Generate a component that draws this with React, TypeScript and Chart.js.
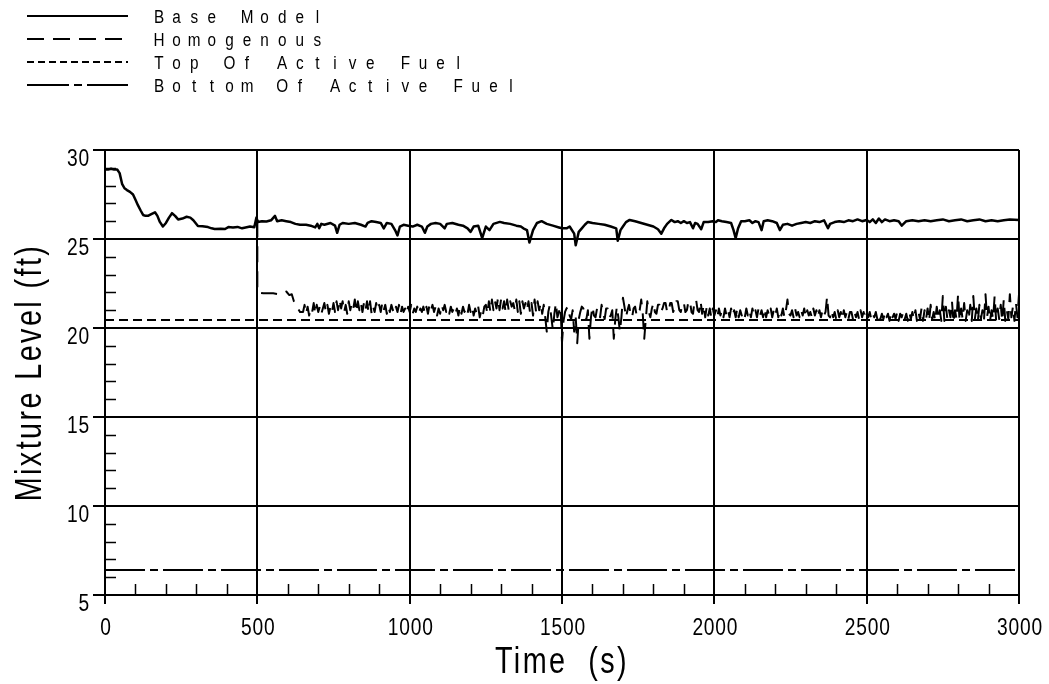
import React, { useEffect, useRef } from "react";
import { Chart, registerables } from "chart.js";

Chart.register(...registerables);

// ---------- data ----------
const baseTime = [
  0, 10, 20, 30, 40, 48, 56, 64, 72, 82, 92, 100, 108, 117, 125, 133, 141, 152, 164, 172,
  180, 190, 200, 210, 220, 230, 240, 254, 268, 280, 290, 305, 320, 338, 350, 360, 380, 394, 405, 420,
  435, 450, 465, 476, 490, 497, 502, 515, 530, 545, 558, 565, 580, 595, 610, 625, 640, 660, 675, 690,
  697, 703, 710, 720, 740, 755, 762, 770, 780, 800, 820, 840, 855, 862, 875, 890, 905, 915, 925, 940,
  952, 960, 968, 980, 995, 1010, 1025, 1040, 1050, 1058, 1070, 1085, 1100, 1115, 1122, 1140, 1160, 1175, 1190, 1200,
  1210, 1225, 1238, 1250, 1262, 1275, 1296, 1310, 1330, 1350, 1365, 1373, 1385, 1393, 1405, 1418, 1433, 1450, 1470, 1490,
  1500, 1515, 1525, 1540, 1545, 1555, 1565, 1575, 1585, 1600, 1620, 1640, 1660, 1678, 1683, 1692, 1700, 1710, 1722, 1740,
  1760, 1780, 1800, 1815, 1826, 1835, 1845, 1859, 1870, 1880, 1890, 1900, 1910, 1920, 1930, 1937, 1945, 1957, 1965, 1980,
  1995, 2005, 2012, 2025, 2040, 2055, 2063, 2070, 2078, 2088, 2100, 2115, 2125, 2135, 2145, 2155, 2162, 2175, 2190, 2205,
  2215, 2225, 2240, 2255, 2270, 2285, 2300, 2315, 2330, 2345, 2360, 2373, 2380, 2395, 2410, 2425, 2440, 2455, 2470, 2485,
  2500, 2510, 2520, 2530, 2540, 2550, 2560, 2575, 2590, 2605, 2615, 2630, 2650, 2670, 2690, 2710, 2730, 2750, 2770, 2790,
  2810, 2830, 2850, 2870, 2890, 2910, 2930, 2950, 2970, 3000,
];
const baseLevel = [
  28.9, 28.9, 28.95, 28.9, 28.9, 28.7, 28.1, 27.85, 27.75, 27.65, 27.5, 27.2, 26.9, 26.6, 26.35, 26.3, 26.3, 26.4, 26.5, 26.3,
  25.96, 25.7, 25.9, 26.2, 26.45, 26.3, 26.1, 26.15, 26.25, 26.2, 26.05, 25.73, 25.72, 25.67, 25.6, 25.56, 25.58, 25.56, 25.67, 25.65,
  25.68, 25.6, 25.66, 25.7, 25.66, 26.2, 25.95, 26.0, 25.98, 26.05, 26.3, 26.0, 26.05, 26.0, 25.95, 25.85, 25.8, 25.8, 25.75, 25.65,
  25.85, 25.6, 25.85, 25.8, 25.9, 25.75, 25.35, 25.8, 25.9, 25.85, 25.9, 25.8, 25.7, 25.9, 26.0, 25.95, 25.9, 25.6, 25.9, 25.85,
  25.5, 25.2, 25.7, 25.8, 25.75, 25.7, 25.8, 25.7, 25.35, 25.7, 25.85, 25.9, 25.85, 25.6, 25.85, 25.9, 25.8, 25.75, 25.6, 25.4,
  25.7, 25.75, 25.05, 25.7, 25.5, 25.85, 25.96, 25.9, 25.85, 25.75, 25.7, 25.6, 25.5, 24.8, 25.5, 25.9, 26.0, 25.85, 25.75, 25.65,
  25.6, 25.6, 25.7, 25.3, 24.65, 25.4, 25.6, 25.8, 25.96, 25.9, 25.85, 25.8, 25.7, 25.6, 24.9, 25.5, 25.7, 25.95, 26.07, 26.0,
  25.9, 25.8, 25.7, 25.55, 25.3, 25.6, 25.85, 26.07, 25.95, 26.0, 25.9, 26.0, 25.9, 25.95, 25.6, 25.9, 25.85, 25.55, 25.95, 25.95,
  26.0, 25.95, 26.05, 26.0, 25.95, 25.9, 25.5, 25.05, 25.6, 26.0, 26.0, 26.05, 25.9, 26.0, 25.95, 25.5, 26.0, 26.05, 26.0, 25.9,
  25.5, 25.8, 25.85, 25.75, 25.85, 25.9, 25.95, 25.9, 26.0, 25.95, 26.05, 25.6, 25.85, 25.95, 26.0, 25.95, 26.05, 26.0, 26.1, 26.0,
  26.07, 25.95, 26.1, 25.9, 26.15, 25.95, 26.1, 26.0, 26.05, 26.0, 25.75, 26.0, 26.05, 26.0, 26.05, 26.0, 26.05, 26.1, 26.0, 26.05,
  26.1, 26.0, 26.05, 26.1, 26.0, 26.05, 26.0, 26.05, 26.1, 26.07,
];

// Homogenous: transition section (irregular times) ...
const homogStartTime = [500, 500, 500, 520, 552, 570, 585, 595, 605, 613, 620, 630, 640];
const homogStartLevel = [26.0, 24.5, 22.0, 21.95, 21.95, 21.9, 21.95, 22.05, 21.85, 21.9, 21.5, 21.2, 20.9];
// ... then read every 5 s from 650 s to 3000 s
const homogSampleStart = 650;
const homogSampleStep = 5;
const homogSampleLevel = [
  20.9, 21.3, 20.8, 21.2, 20.7, 21.1, 20.9, 21.4, 20.8, 21.3, 20.9, 21.2, 20.8, 21.1, 21.4, 20.9, 21.3, 20.8, 21.2, 20.9,
  21.4, 20.9, 21.5, 21.0, 21.6, 21.1, 21.5, 20.9, 21.3, 20.8, 21.5, 21.0, 21.4, 21.1, 21.6, 20.9, 21.5, 21.0, 21.4, 20.9,
  21.4, 21.0, 21.5, 20.9, 21.5, 20.8, 21.2, 20.9, 21.4, 21.0, 21.3, 20.9, 21.4, 21.0, 21.3, 20.8, 21.2, 20.9, 21.3, 21.0,
  20.8, 21.2, 20.9, 21.3, 20.8, 21.2, 20.9, 21.1, 20.8, 21.2, 20.9, 21.3, 20.8, 21.1, 20.9, 21.2, 20.8, 21.1, 20.9, 21.2,
  20.8, 21.2, 20.8, 21.3, 21.0, 21.3, 20.9, 21.2, 20.7, 21.1, 20.8, 21.3, 21.0, 21.3, 20.9, 21.1, 20.8, 21.2, 20.9, 21.1,
  20.8, 21.1, 20.7, 21.2, 20.8, 21.2, 20.9, 21.1, 20.8, 21.3, 20.9, 21.2, 20.7, 21.1, 20.8, 21.2, 20.6, 21.0, 20.7, 21.2,
  21.3, 20.8, 21.5, 20.9, 21.6, 21.0, 21.5, 21.1, 21.7, 21.0, 21.6, 21.1, 21.5, 20.9, 21.6, 21.0, 21.5, 21.2, 21.4, 21.0,
  21.6, 20.9, 21.5, 20.8, 21.5, 21.1, 21.4, 21.0, 21.5, 20.9, 21.4, 20.7, 21.6, 20.9, 21.5, 21.0, 21.4, 20.8, 21.3, 20.6,
  19.8, 20.9, 21.3, 20.6, 19.9, 20.8, 21.4, 20.6, 20.9, 21.2, 19.2, 20.4, 20.9, 21.1, 21.2, 20.7, 20.5, 21.0, 19.8, 20.6,
  19.15, 20.5, 20.9, 21.2, 21.1, 20.6, 20.5, 21.0, 19.4, 20.6, 21.2, 20.7, 20.6, 21.1, 21.0, 20.6, 21.3, 20.8, 20.5, 21.1,
  21.1, 20.6, 20.7, 21.0, 19.4, 20.5, 21.2, 20.6, 19.8, 20.6, 21.7, 21.2, 20.6, 21.0, 21.3, 20.8, 20.6, 21.1, 21.2, 20.7,
  20.7, 21.0, 21.6, 20.8, 19.4, 20.5, 21.5, 20.9, 20.6, 21.1, 21.4, 20.9, 20.8, 21.3, 21.3, 20.9, 21.1, 21.4, 21.4, 20.9,
  20.9, 21.4, 21.4, 20.9, 21.1, 21.5, 21.5, 21.0, 20.9, 21.4, 21.4, 20.9, 21.0, 21.5, 21.5, 20.9, 20.8, 21.5, 21.6, 21.0,
  20.9, 21.5, 20.8, 21.3, 20.6, 21.2, 20.7, 21.1, 20.6, 21.1, 20.7, 21.0, 20.6, 21.1, 20.7, 21.0, 20.6, 21.1, 20.7, 21.0,
  20.6, 21.1, 20.7, 21.0, 20.6, 21.1, 20.6, 21.0, 20.7, 20.9, 20.6, 21.1, 20.7, 21.0, 20.6, 21.1, 20.7, 21.0, 20.6, 21.1,
  20.7, 21.0, 20.6, 21.1, 20.6, 21.0, 20.7, 21.1, 20.6, 21.0, 20.7, 21.1, 20.6, 21.0, 20.7, 21.1, 20.6, 21.0, 21.6, 20.8,
  20.7, 21.0, 20.6, 21.1, 20.7, 20.9, 20.6, 21.0, 20.7, 21.1, 20.6, 21.0, 20.7, 20.9, 20.6, 21.1, 20.7, 21.0, 20.6, 21.0,
  20.6, 21.0, 20.7, 20.9, 21.75, 20.7, 20.6, 21.0, 20.6, 20.9, 20.5, 21.0, 20.6, 20.9, 20.5, 21.0, 20.6, 20.9, 20.5, 20.9,
  20.9, 20.5, 20.9, 20.6, 20.9, 20.5, 21.0, 20.6, 20.9, 20.5, 20.8, 20.6, 20.9, 20.5, 20.8, 20.6, 20.9, 20.5, 20.8, 20.5,
  20.8, 20.5, 20.9, 20.6, 20.8, 20.4, 20.9, 20.6, 20.8, 20.5, 20.9, 20.4, 20.8, 20.6, 20.9, 20.5, 20.8, 20.4, 20.9, 20.5,
  20.9, 20.5, 21.0, 20.4, 20.9, 20.5, 21.1, 20.4, 21.0, 20.5, 21.1, 20.4, 21.3, 20.5, 20.9, 20.4, 21.2, 20.5, 21.0, 20.4,
  21.8, 20.4, 21.2, 20.5, 21.0, 20.6, 21.5, 20.3, 21.0, 20.5, 21.9, 20.4, 21.1, 20.5, 21.4, 20.4, 21.0, 20.5, 21.3, 20.4,
  21.8, 20.5, 21.1, 20.4, 21.3, 20.5, 21.0, 20.4, 21.9, 20.6, 21.2, 20.4, 21.0, 20.5, 21.8, 20.4, 21.1, 20.5, 21.3, 20.4,
  21.6, 20.4, 21.0, 20.5, 21.9, 20.6, 21.2, 20.4, 21.4, 20.6, 21.9,
];

const topOfActiveFuel = 20.45;
const bottomOfActiveFuel = 6.4;
const timeRange = [0, 3000];
const levelRange = [5, 30];
const timeTickStep = 500;
const levelTickStep = 5;
const timeMinorStep = 100;
const levelMinorStep = 1;

const seriesLabels = ["Base Model", "Homogenous", "Top Of Active Fuel", "Bottom Of Active Fuel"];
const seriesDash = [[], [16, 9], [9, 5], [40, 5, 8, 5]];
const legendDash = [[], [17, 9], [7, 4], [42, 5, 8, 5]];
const seriesWidth = [2.5, 2, 2, 2];

const xTitle = "Time  (s)";
const yTitle = "Mixture Level (ft)";

const FONT = '"Liberation Sans", Arial, sans-serif';

function drawCondensed(ctx: any, text: string, x: number, y: number, align: string, sx: number, rot = 0) {
  ctx.save();
  ctx.translate(x, y);
  if (rot) ctx.rotate(rot);
  ctx.scale(sx, 1);
  ctx.textAlign = align;
  ctx.fillText(text, 0, 0);
  ctx.restore();
}

// ---------- plugins ----------
const minorTicksPlugin = {
  id: "minorTicks",
  afterDraw(chart: any) {
    const { ctx, chartArea: ca, scales } = chart;
    const x = scales.x;
    const y = scales.y;
    ctx.save();
    ctx.strokeStyle = "#000";
    ctx.lineWidth = 1.5;
    ctx.setLineDash([]);
    ctx.beginPath();
    for (let v = timeRange[0] + timeMinorStep; v < timeRange[1]; v += timeMinorStep) {
      if (v % timeTickStep === 0) continue;
      const px = Math.round(x.getPixelForValue(v)) + 0.5;
      ctx.moveTo(px, ca.bottom);
      ctx.lineTo(px, ca.bottom - 11);
    }
    for (let v = levelRange[0] + levelMinorStep; v < levelRange[1]; v += levelMinorStep) {
      if (v % levelTickStep === 0) continue;
      const py = Math.round(y.getPixelForValue(v)) + 0.5;
      ctx.moveTo(ca.left, py);
      ctx.lineTo(ca.left + 11, py);
    }
    ctx.stroke();
    ctx.restore();
  },
};

const axisTextPlugin = {
  id: "axisText",
  afterDraw(chart: any) {
    const { ctx, chartArea: ca, scales } = chart;
    const x = scales.x;
    const y = scales.y;
    ctx.save();
    ctx.fillStyle = "#000";
    ctx.textBaseline = "alphabetic";
    // tick labels
    ctx.font = `24px ${FONT}`;
    ctx.letterSpacing = "1px";
    x.ticks.forEach((t: any) => {
      drawCondensed(ctx, String(t.value), x.getPixelForValue(t.value) + 1, 635, "center", 0.8);
    });
    y.ticks.forEach((t: any) => {
      drawCondensed(ctx, String(t.value), 90, y.getPixelForValue(t.value) + 16, "right", 0.8);
    });
    // axis titles
    ctx.font = `36px ${FONT}`;
    ctx.letterSpacing = "3px";
    drawCondensed(ctx, xTitle, (ca.left + ca.right) / 2, 673, "center", 0.8);
    drawCondensed(ctx, yTitle, 41, (ca.top + ca.bottom) / 2, "center", 0.8, -Math.PI / 2);
    ctx.restore();
  },
};

const legendPlugin = {
  id: "customLegend",
  afterDraw(chart: any) {
    const { ctx } = chart;
    const rowY = [16, 39, 62, 85];
    const slot = 17.6;
    ctx.save();
    ctx.font = `18px ${FONT}`;
    ctx.fillStyle = "#000";
    ctx.strokeStyle = "#000";
    ctx.textBaseline = "middle";
    ctx.textAlign = "center";
    seriesLabels.forEach((label, i) => {
      const yy = rowY[i];
      ctx.lineWidth = 2;
      ctx.setLineDash(legendDash[i]);
      ctx.beginPath();
      ctx.moveTo(27, yy);
      ctx.lineTo(128, yy);
      ctx.stroke();
      ctx.setLineDash([]);
      for (let k = 0; k < label.length; k++) {
        const ch = label[k];
        if (ch === " ") continue;
        ctx.save();
        ctx.translate(159 + k * slot, yy + 2);
        ctx.scale(0.85, 1);
        ctx.fillText(ch, 0, 0);
        ctx.restore();
      }
    });
    ctx.restore();
  },
};

export default function App() {
  const canvasRef = useRef<HTMLCanvasElement | null>(null);

  useEffect(() => {
    const canvas = canvasRef.current;
    if (!canvas) return;

    const basePoints = baseTime.map((t, i) => ({ x: t, y: baseLevel[i] }));
    const homogPoints = [
      ...homogStartTime.map((t, i) => ({ x: t, y: homogStartLevel[i] })),
      ...homogSampleLevel.map((v, i) => ({ x: homogSampleStart + i * homogSampleStep, y: v })),
    ];
    const topPoints = timeRange.map((t) => ({ x: t, y: topOfActiveFuel }));
    const bottomPoints = timeRange.map((t) => ({ x: t, y: bottomOfActiveFuel }));
    const all = [basePoints, homogPoints, topPoints, bottomPoints];

    const chart = new Chart(canvas, {
      type: "line",
      data: {
        datasets: all.map((pts, i) => ({
          label: seriesLabels[i],
          data: pts,
          borderColor: "#000",
          backgroundColor: "#000",
          borderWidth: seriesWidth[i],
          borderDash: seriesDash[i],
          pointRadius: 0,
          tension: 0,
          fill: false,
          borderJoinStyle: "round" as const,
        })),
      },
      options: {
        responsive: false,
        animation: false,
        events: [],
        layout: { padding: { top: 150, right: 30, left: 0, bottom: 0 } },
        plugins: {
          legend: { display: false },
          tooltip: { enabled: false },
        },
        scales: {
          x: {
            type: "linear",
            min: timeRange[0],
            max: timeRange[1],
            afterFit: (s: any) => {
              s.height = 89;
              s.paddingLeft = 0;
              s.paddingRight = 0;
            },
            ticks: { stepSize: timeTickStep, display: false, autoSkip: false },
            grid: { color: "#000", lineWidth: 2, tickLength: 9, tickColor: "#000", tickWidth: 2 },
            border: { display: true, color: "#000", width: 2 },
          },
          y: {
            type: "linear",
            min: levelRange[0],
            max: levelRange[1],
            afterFit: (s: any) => {
              s.width = 105;
              s.paddingTop = 0;
              s.paddingBottom = 0;
            },
            ticks: { stepSize: levelTickStep, display: false },
            grid: { color: "#000", lineWidth: 2, tickLength: 12, tickColor: "#000", tickWidth: 2 },
            border: { display: true, color: "#000", width: 2 },
          },
        },
      },
      plugins: [minorTicksPlugin, axisTextPlugin, legendPlugin],
    });

    return () => chart.destroy();
  }, []);

  return (
    <div style={{ position: "fixed", left: 0, top: 0, width: 1049, height: 684, background: "#fff" }}>
      <canvas ref={canvasRef} width={1049} height={684} style={{ display: "block" }} />
    </div>
  );
}
